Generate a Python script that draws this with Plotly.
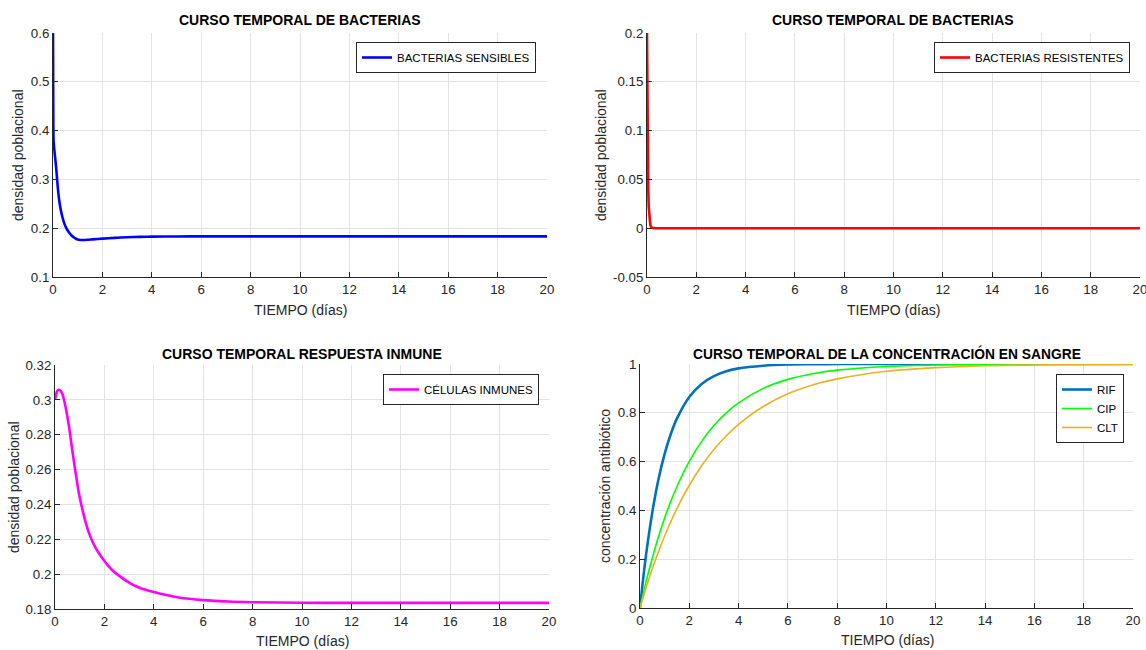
import plotly.graph_objects as go

W, H = 1146, 650

# ---------------- data ----------------
t_sens = [0, 0.01, 0.02, 0.04, 0.07, 0.1, 0.135, 0.17, 0.216, 0.26, 0.31, 0.38, 0.45, 0.55,
          0.65, 0.75, 0.85, 0.95, 1.05, 1.2, 1.4, 1.6, 2, 2.5, 3, 3.5, 4, 5, 6, 8, 10, 15, 20]
y_sens = [0.6, 0.45, 0.385, 0.368, 0.353, 0.338, 0.32, 0.298, 0.272, 0.254, 0.239, 0.223, 0.211,
          0.199, 0.191, 0.185, 0.181, 0.178, 0.1764, 0.1758, 0.1762, 0.1770, 0.1786, 0.1802,
          0.1814, 0.1822, 0.1827, 0.1831, 0.1833, 0.1833, 0.1833, 0.1833, 0.1833]

t_res = [0, 0.005, 0.01, 0.02, 0.03, 0.05, 0.07, 0.1, 0.13, 0.16, 0.2, 0.3, 1, 5, 10, 20]
y_res = [0.2, 0.17, 0.14, 0.1, 0.07, 0.04, 0.022, 0.01, 0.004, 0.0015, 0.0005, 0.0001, 0, 0, 0, 0]

t_inm = [0, 0.05, 0.1, 0.16, 0.22, 0.3, 0.43, 0.57, 0.7, 0.84, 0.97, 1.18, 1.38, 1.65, 2,
         2.3, 2.6, 3.14, 3.5, 4, 4.5, 5, 6, 7, 8, 10, 12, 15, 20]
y_inm = [0.300, 0.3035, 0.3053, 0.3058, 0.3053, 0.3034, 0.2958, 0.2844, 0.271, 0.2577, 0.2463,
         0.233, 0.2234, 0.2149, 0.2075, 0.2025, 0.1990, 0.1940, 0.1918, 0.1897, 0.1880, 0.1866,
         0.1851, 0.1843, 0.1839, 0.1836, 0.1835, 0.1835, 0.1835]

t_conc = [0, 0.1, 0.25, 0.5, 0.75, 1, 1.25, 1.5, 2, 2.5, 3, 3.5, 4, 5, 6, 7, 8, 10, 12, 14, 16, 18, 20]
y_rif = [0, 0.095, 0.221, 0.393, 0.528, 0.632, 0.713, 0.777, 0.865, 0.918, 0.950, 0.970, 0.982,
         0.993, 0.998, 0.999, 1.0, 1.0, 1.0, 1.0, 1.0, 1.0, 1.0]
y_cip = [0, 0.045, 0.109, 0.205, 0.292, 0.369, 0.437, 0.498, 0.601, 0.683, 0.748, 0.800, 0.841,
         0.900, 0.937, 0.960, 0.975, 0.990, 0.996, 0.998, 0.999, 1.0, 1.0]
y_clt = [0, 0.034, 0.084, 0.161, 0.231, 0.295, 0.354, 0.408, 0.503, 0.583, 0.650, 0.706, 0.753,
         0.826, 0.878, 0.914, 0.939, 0.970, 0.985, 0.993, 0.996, 0.998, 0.999]

x_ticks = [0, 2, 4, 6, 8, 10, 12, 14, 16, 18, 20]
y_ticks_sens = [0.1, 0.2, 0.3, 0.4, 0.5, 0.6]
y_labels_sens = ["0.1", "0.2", "0.3", "0.4", "0.5", "0.6"]
y_ticks_res = [-0.05, 0, 0.05, 0.1, 0.15, 0.2]
y_labels_res = ["-0.05", "0", "0.05", "0.1", "0.15", "0.2"]
y_ticks_inm = [0.18, 0.2, 0.22, 0.24, 0.26, 0.28, 0.3, 0.32]
y_labels_inm = ["0.18", "0.2", "0.22", "0.24", "0.26", "0.28", "0.3", "0.32"]
y_ticks_conc = [0, 0.2, 0.4, 0.6, 0.8, 1]
y_labels_conc = ["0", "0.2", "0.4", "0.6", "0.8", "1"]

FONT = "Liberation Sans, Arial, sans-serif"
TXT = "#262626"


def px(x):
    return x / W


def py(y):
    return 1 - y / H


fig = go.Figure()

fig.add_trace(go.Scatter(x=t_sens, y=y_sens, mode="lines", name="BACTERIAS SENSIBLES",
                         line=dict(color="#0000FF", width=2.6, shape="spline", smoothing=0.8),
                         xaxis="x", yaxis="y", legend="legend"))
fig.add_trace(go.Scatter(x=t_res, y=y_res, mode="lines", name="BACTERIAS RESISTENTES",
                         line=dict(color="#FF0000", width=2.6), xaxis="x2", yaxis="y2", legend="legend2"))
fig.add_trace(go.Scatter(x=t_inm, y=y_inm, mode="lines", name="CÉLULAS INMUNES",
                         line=dict(color="#FF00FF", width=2.6, shape="spline", smoothing=0.8),
                         xaxis="x3", yaxis="y3", legend="legend3"))
fig.add_trace(go.Scatter(x=t_conc, y=y_rif, mode="lines", name="RIF",
                         line=dict(color="#0072BD", width=2.6, shape="spline", smoothing=0.8),
                         xaxis="x4", yaxis="y4", legend="legend4"))
fig.add_trace(go.Scatter(x=t_conc, y=y_cip, mode="lines", name="CIP",
                         line=dict(color="#00FF00", width=1.6, shape="spline", smoothing=0.8),
                         xaxis="x4", yaxis="y4", legend="legend4"))
fig.add_trace(go.Scatter(x=t_conc, y=y_clt, mode="lines", name="CLT",
                         line=dict(color="#EDB120", width=1.6, shape="spline", smoothing=0.8),
                         xaxis="x4", yaxis="y4", legend="legend4"))


def xax(domain, anchor):
    return dict(domain=domain, anchor=anchor, range=[0, 20], tickvals=x_ticks,
                ticktext=[str(v) for v in x_ticks], showgrid=True, gridcolor="#E3E3E3",
                gridwidth=1, zeroline=False, showline=True, linecolor=TXT, linewidth=1,
                ticks="inside", ticklen=5, tickcolor=TXT, mirror=False, automargin=False,
                ticklabeloverflow="allow",
                tickfont=dict(family=FONT, size=13.3, color=TXT), fixedrange=True)


def yax(domain, anchor, rng, vals, labels):
    return dict(domain=domain, anchor=anchor, range=rng, tickvals=vals, ticktext=labels,
                showgrid=True, gridcolor="#E3E3E3", gridwidth=1, zeroline=False,
                showline=True, linecolor=TXT, linewidth=1, ticks="inside", ticklen=5,
                tickcolor=TXT, automargin=False, ticklabeloverflow="allow",
                tickfont=dict(family=FONT, size=13.3, color=TXT), fixedrange=True)


top = [py(277), py(33)]
bot = [py(609), py(365)]

fig.update_layout(
    width=W, height=H,
    margin=dict(l=0, r=0, t=0, b=0, autoexpand=False),
    paper_bgcolor="white", plot_bgcolor="white",
    showlegend=True,
    font=dict(family=FONT, color=TXT),
    xaxis=xax([px(53), px(547)], "y"),
    yaxis=yax(top, "x", [0.1, 0.6], y_ticks_sens, y_labels_sens),
    xaxis2=xax([px(647), px(1140)], "y2"),
    yaxis2=yax(top, "x2", [-0.05, 0.2], y_ticks_res, y_labels_res),
    xaxis3=xax([px(55), px(549)], "y3"),
    yaxis3=yax(bot, "x3", [0.18, 0.32], y_ticks_inm, y_labels_inm),
    xaxis4=xax([px(640), px(1133)], "y4"),
    yaxis4=yax([py(608), py(364)], "x4", [0, 1], y_ticks_conc, y_labels_conc),
)

leg_common = dict(bgcolor="white", bordercolor="#262626", borderwidth=1,
                  font=dict(family=FONT, size=11.5, color="#000000"),
                  xanchor="right", yanchor="top", itemwidth=30, tracegroupgap=0)
fig.update_layout(
    legend=dict(x=px(536), y=py(42), **leg_common),
    legend2=dict(x=px(1130), y=py(42), **leg_common),
    legend3=dict(x=px(539), y=py(374), **leg_common),
    legend4=dict(x=px(1124), y=py(374), **leg_common),
)

ann = []


def add_text(text, x, y, size, bold=False, angle=0):
    ann.append(dict(text=f"<b>{text}</b>" if bold else text, x=px(x), y=py(y),
                    xref="paper", yref="paper", showarrow=False, textangle=angle,
                    xanchor="center", yanchor="middle",
                    font=dict(family=FONT, size=size, color="#000000" if bold else TXT)))


add_text("CURSO TEMPORAL DE BACTERIAS", 300, 20, 14, bold=True)
add_text("CURSO TEMPORAL DE BACTERIAS", 893, 20, 14, bold=True)
add_text("CURSO TEMPORAL RESPUESTA INMUNE", 302, 354, 14, bold=True)
add_text("CURSO TEMPORAL DE LA CONCENTRACIÓN EN SANGRE", 887, 353, 13.8, bold=True)

add_text("TIEMPO (días)", 300, 310, 14)
add_text("TIEMPO (días)", 893, 310, 14)
add_text("TIEMPO (días)", 302, 641, 14)
add_text("TIEMPO (días)", 887, 640, 14)

add_text("densidad poblacional", 18, 155, 14, angle=-90)
add_text("densidad poblacional", 601, 155, 14, angle=-90)
add_text("densidad poblacional", 14, 487, 14, angle=-90)
add_text("concentración antibiótico", 605, 486, 14, angle=-90)

fig.update_layout(annotations=ann)

fig.write_html("out.html")
